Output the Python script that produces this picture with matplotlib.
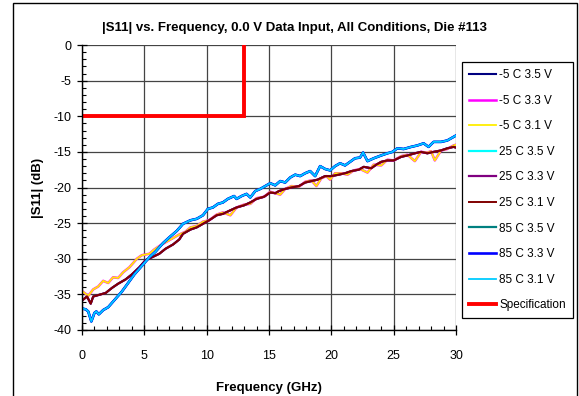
import matplotlib
matplotlib.use("Agg")
import matplotlib.pyplot as plt
from matplotlib.patches import Rectangle

plt.rcParams['font.family'] = ['Liberation Sans', 'DejaVu Sans']
plt.rcParams['axes.unicode_minus'] = False

# group A: 25 C 3.5 V and all 85 C curves
freq_a = [0.05, 0.3, 0.5, 0.75, 1.0, 1.15, 1.35, 1.7, 2.1, 2.6, 3.2, 3.7, 4.2, 4.8,
          5.4, 5.9, 6.5, 7.0, 7.6, 8.1, 8.7, 9.2, 9.7, 10.1, 10.5, 10.9, 11.3, 11.7,
          12.2, 12.4, 12.8, 13.2, 13.5, 13.9, 14.3, 14.7, 15.1, 15.5, 15.9, 16.3,
          16.7, 17.1, 17.5, 17.9, 18.3, 18.7, 19.1, 19.5, 19.9, 20.3, 20.7, 21.1,
          21.5, 21.9, 22.3, 22.55, 22.9, 23.4, 24.0, 24.5, 24.9, 25.3, 25.8, 26.4,
          26.9, 27.4, 27.8, 28.2, 28.8, 29.3, 29.8, 30.0]
s11_a = [-37.0, -37.1, -37.4, -38.8, -37.6, -37.4, -37.8, -37.2, -36.8, -35.8, -34.6,
         -33.4, -32.2, -31.0, -29.8, -29.0, -27.8, -27.0, -26.1, -25.1, -24.6, -24.4,
         -23.9, -23.0, -22.8, -22.3, -22.1, -21.6, -21.2, -21.6, -21.2, -20.9, -21.4,
         -20.5, -20.2, -19.8, -19.4, -19.7, -19.1, -19.3, -18.6, -18.2, -18.4, -18.0,
         -17.7, -18.4, -17.0, -17.4, -17.6, -17.0, -16.6, -16.9, -16.4, -15.9, -15.8,
         -15.1, -16.3, -15.9, -15.5, -15.2, -15.0, -14.5, -14.6, -14.3, -14.1, -13.8,
         -14.3, -13.6, -13.6, -13.4, -12.9, -12.7]

# group B: -5 C 3.3 V / 3.1 V
freq_b = [0.05, 0.5, 0.9, 1.3, 1.7, 2.1, 2.5, 2.9, 3.3, 3.8, 4.4, 4.8, 5.4, 5.8, 6.3,
          6.9, 7.4, 7.8, 8.3, 8.7, 9.2, 9.7, 10.2, 10.8, 11.3, 11.9, 12.4, 13.0, 13.5,
          14.0, 14.6, 15.1, 15.5, 15.9, 16.3, 16.8, 17.4, 17.9, 18.4, 18.8, 19.2,
          19.6, 19.9, 20.3, 20.8, 21.3, 21.8, 22.3, 22.9, 23.4, 24.0, 24.5, 25.0,
          25.6, 26.1, 26.7, 27.2, 27.7, 28.0, 28.3, 28.8, 29.3, 29.8, 30.0]
s11_b = [-34.6, -35.2, -34.3, -33.9, -33.1, -33.4, -32.6, -32.7, -31.9, -31.2, -30.0,
         -29.5, -29.3, -28.7, -28.1, -27.5, -27.0, -26.6, -26.2, -25.6, -25.4, -24.8,
         -24.6, -23.8, -23.5, -23.9, -22.8, -22.4, -22.3, -21.5, -21.3, -20.6, -20.8,
         -21.0, -20.2, -19.8, -19.9, -19.2, -19.0, -19.8, -18.7, -18.4, -18.9, -18.0,
         -18.0, -18.2, -17.6, -17.4, -17.9, -16.8, -16.9, -16.1, -16.2, -15.6, -15.4,
         -16.3, -15.0, -15.1, -14.9, -16.2, -14.8, -14.6, -14.1, -14.0]

# group C: -5 C 3.5 V, 25 C 3.3 V / 3.1 V
freq_c = [0.05, 0.4, 0.7, 0.9, 1.3, 1.9, 2.4, 2.9, 3.5, 4.0, 4.6, 5.1, 5.6, 6.2, 6.7,
          7.3, 7.8, 8.1, 8.7, 9.2, 9.7, 10.2, 10.8, 11.3, 11.9, 12.4, 13.0, 13.5,
          14.0, 14.6, 15.1, 15.5, 15.8, 16.3, 16.8, 17.4, 17.9, 18.4, 18.9, 19.5,
          20.0, 20.6, 21.1, 21.6, 22.2, 22.6, 23.2, 23.6, 24.0, 24.5, 25.0, 25.6,
          26.1, 26.7, 27.2, 27.7, 28.2, 28.8, 29.3, 29.8, 30.0]
s11_c = [-35.8, -35.3, -36.3, -35.3, -35.1, -34.8, -34.1, -33.5, -32.9, -32.2, -31.2,
         -30.2, -29.8, -29.3, -28.6, -28.0, -27.3, -26.5, -25.9, -25.6, -25.1, -24.6,
         -23.9, -23.7, -23.2, -22.8, -22.5, -22.1, -21.6, -21.3, -20.7, -20.8, -20.5,
         -20.2, -20.0, -19.8, -19.3, -19.1, -18.9, -18.4, -18.4, -18.2, -18.0, -17.7,
         -17.5, -17.1, -17.3, -16.8, -16.4, -16.2, -16.2, -15.7, -15.5, -15.2, -15.0,
         -15.2, -15.0, -14.8, -14.5, -14.3, -14.4]

spec_freq = [0, 13, 13]
spec_s11 = [-10, -10, 0]

labels = ['-5 C 3.5 V', '-5 C 3.3 V', '-5 C 3.1 V', '25 C 3.5 V', '25 C 3.3 V',
          '25 C 3.1 V', '85 C 3.5 V', '85 C 3.3 V', '85 C 3.1 V']
groups = ['c', 'b', 'b', 'a', 'c', 'c', 'a', 'a', 'a']
colors = ['#000080', '#FF00FF', '#FFEE00', '#00FFFF', '#800080', '#800000',
          '#008080', '#0000FF', '#00CCFF']
widths = [1.5, 1.8, 1.3, 1.6, 1.6, 1.4, 1.6, 1.9, 1.3]

data = {'a': (freq_a, s11_a), 'b': (freq_b, s11_b), 'c': (freq_c, s11_c)}

fig = plt.figure(figsize=(5.79, 3.96), dpi=100)
ax = fig.add_axes([82 / 579, 1 - 330 / 396, (456 - 82) / 579, (330 - 45) / 396])

for lab, g, col, lw in zip(labels, groups, colors, widths):
    f, s = data[g]
    ax.plot(f, s, color=col, lw=lw, label=lab)
ax.plot(spec_freq, spec_s11, color='#FF0000', lw=2.8, label='Specification',
        solid_joinstyle='miter')

ax.set_xlim(0, 30)
ax.set_ylim(-40, 0)
ax.set_xticks(range(0, 31, 5))
ax.set_yticks(range(-40, 1, 5))
ax.set_xticks(range(0, 31), minor=True)
ax.set_yticks(range(-40, 1), minor=True)
ax.grid(True, which='major', color='#444444', lw=0.9)
ax.set_axisbelow(True)
ax.tick_params(which='major', direction='inout', length=7, width=0.9, labelsize=9)
ax.tick_params(which='minor', direction='in', length=3, width=0.8)
ax.tick_params(axis='x', which='major', pad=11)
ax.tick_params(axis='y', which='major', pad=4)
for side in ['top', 'right']:
    ax.spines[side].set_visible(False)
for side in ['left', 'bottom']:
    ax.spines[side].set_linewidth(1.0)

ax.set_xlabel('Frequency (GHz)', fontsize=9.5, fontweight='bold', labelpad=14)
ax.set_ylabel('|S11| (dB)', fontsize=9.5, fontweight='bold', labelpad=7)
fig.text(295 / 579, 1 - 28 / 396,
         '|S11| vs. Frequency, 0.0 V Data Input, All Conditions, Die #113',
         ha='center', va='center', fontsize=9.5, fontweight='bold')

leg = ax.legend(loc='upper left', bbox_to_anchor=(462 / 579, 1 - 62 / 396),
                bbox_transform=fig.transFigure, borderaxespad=0, fontsize=8.5,
                frameon=True, fancybox=False, edgecolor='black', framealpha=1,
                handlelength=2.3, handletextpad=0.25, labelspacing=1.15,
                borderpad=0.6)
leg.get_frame().set_linewidth(0.9)

# chart area frame
fig.patches.append(Rectangle((13 / 579, -0.05), (577 - 13) / 579, 1.05 - 3 / 396,
                             transform=fig.transFigure, fill=False,
                             edgecolor='black', lw=1.0))

plt.savefig('out.png', dpi=100)
